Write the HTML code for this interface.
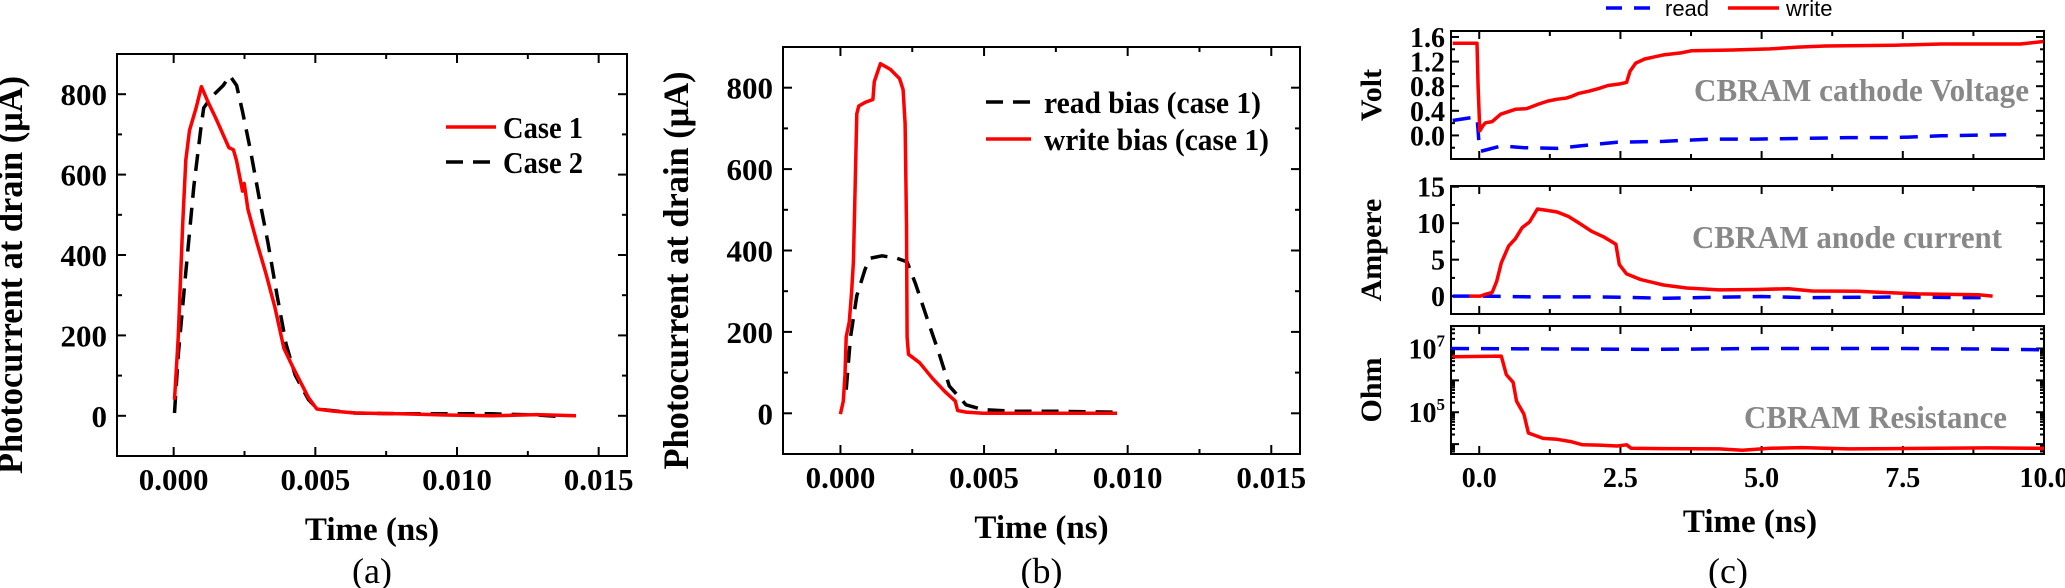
<!DOCTYPE html>
<html><head><meta charset="utf-8"><style>
html,body{margin:0;padding:0;background:#fff}
svg{display:block}
text{font-family:"Liberation Serif",serif;font-weight:bold;fill:#000}
</style></head><body>
<svg id="fig" width="2065" height="588" viewBox="0 0 2065 588" xmlns="http://www.w3.org/2000/svg"></svg>
<script>
// ---- panel (a) data ----
const aCase1X=[0.00003,0.00016,0.00032,0.00043,0.00056,0.00079,0.00098,0.00119,0.00151,0.00195,0.00211,0.00222,0.0023,0.00243,0.00249,0.00262,0.00294,0.00325,0.00357,0.00389,0.00421,0.00476,0.00505,0.0056,0.0064,0.008,0.0096,0.0112,0.0128,0.0142];
const aCase1Y=[40,194,477,636,710,766,819,784,737,667,662,634,606,559,578,514,430,355,271,168,121,45,17,12,7,5,2,0,3,0];
const aCase2X=[0.00003,0.00016,0.0004,0.00071,0.00095,0.00106,0.00135,0.00175,0.00198,0.00222,0.00243,0.0027,0.00302,0.00333,0.00365,0.00397,0.00429,0.00476,0.00508,0.0064,0.008,0.0096,0.0112,0.0128,0.0137];
const aCase2Y=[7,150,336,570,710,766,794,822,846,822,757,664,542,430,299,178,101,40,17,7,5,5,5,2,-2];
// ---- panel (b) data ----
const bWriteX=[0,0.0001,0.00016,0.0002,0.00031,0.00039,0.00045,0.00051,0.00057,0.00064,0.00086,0.00113,0.00118,0.00139,0.00174,0.00206,0.00218,0.00225,0.0023,0.00232,0.00237,0.00276,0.0032,0.00364,0.004,0.00408,0.00437,0.00496,0.00613,0.00963];
const bWriteY=[-2,30,95,188,225,298,372,552,736,755,764,771,815,859,845,822,795,712,463,187,145,124,86,53,30,7,3,0,0,0];
const bReadX=[0.0002,0.00035,0.00057,0.00086,0.00104,0.00145,0.00196,0.00232,0.00262,0.00306,0.00342,0.00379,0.00437,0.00496,0.00613,0.00759,0.00949];
const bReadY=[58,187,289,354,381,387,381,372,317,224,150,67,21,9,5,5,3];
// ---- panel (c) data ----
const cVoltWriteX=[-0.47,-0.04,-0.02,0.01,0.07,0.11,0.23,0.38,0.64,0.84,1.05,1.21,1.38,1.54,1.62,1.75,1.95,2.12,2.28,2.48,2.61,2.67,2.77,2.93,3.26,3.59,3.75,4.49,5.15,5.64,6.13,7.36,8.18,9.58,9.99];
const cVoltWriteY=[1.497,1.497,0.8,0.073,0.164,0.206,0.224,0.345,0.424,0.436,0.509,0.558,0.588,0.606,0.63,0.679,0.721,0.764,0.812,0.836,0.861,1.042,1.176,1.242,1.309,1.345,1.376,1.388,1.406,1.436,1.454,1.467,1.485,1.485,1.527];
const cVoltReadX=[-0.47,-0.04,-0.02,0.0,0.02,0.39,0.8,1.38,1.79,2.44,3.26,4.08,4.9,5.72,6.54,7.36,8.18,9.33];
const cVoltReadY=[0.242,0.303,0.073,-0.17,-0.26,-0.17,-0.2,-0.21,-0.17,-0.11,-0.097,-0.06,-0.06,-0.048,-0.036,-0.036,-0.006,0.012];
const cAmpWriteX=[-0.18,0.02,0.11,0.23,0.31,0.39,0.52,0.64,0.76,0.89,1.03,1.17,1.38,1.58,1.79,1.99,2.2,2.42,2.48,2.61,2.85,3.26,3.67,4.25,4.9,5.48,5.89,6.71,7.12,7.77,8.18,8.84,9.09];
const cAmpWriteY=[0,0,0.25,0.51,2.03,4.57,6.86,7.87,9.4,10.16,11.94,11.79,11.53,10.92,9.91,8.89,8.13,7.11,4.32,3.05,2.29,1.52,1.12,0.86,0.91,1.02,0.71,0.66,0.51,0.3,0.25,0.2,0];
const cAmpReadX=[-0.47,0,1,2,2.5,3.3,4.2,5.0,5.8,7.0,7.6,8.5,9.0];
const cAmpReadY=[0,0,-0.1,-0.1,-0.15,-0.3,-0.15,-0.05,-0.2,-0.15,-0.1,-0.2,-0.2];
const cOhmReadX=[-0.5,2,3,5,7.5,9,10];
const cOhmReadLog=[7.0,6.98,6.97,7.0,7.0,6.98,6.96];
const cOhmWriteX=[-0.47,0.39,0.48,0.6,0.66,0.79,0.87,1.13,1.38,1.62,1.83,2.12,2.44,2.61,2.69,3.26,4.25,4.66,5.15,5.72,6.54,7.36,9.0,10.0];
const cOhmWriteLog=[6.74,6.76,6.18,5.94,5.35,4.94,4.35,4.18,4.15,4.08,3.98,3.97,3.94,3.98,3.87,3.86,3.85,3.81,3.87,3.89,3.85,3.86,3.88,3.87];
// tick labels
const abXTicks=[0,0.005,0.01,0.015];
const abXLabels=["0.000","0.005","0.010","0.015"];
const abYTicks=[0,200,400,600,800];
const cXTicks=[0,2.5,5,7.5,10];
const cXLabels=["0.0","2.5","5.0","7.5","10.0"];
const voltTicks=[0,0.4,0.8,1.2,1.6];
const voltLabels=["0.0","0.4","0.8","1.2","1.6"];
const ampTicks=[0,5,10,15];
const ohmLabelExp=[5,7];

const NS="http://www.w3.org/2000/svg";
const svg=document.getElementById('fig');
function mk(tag,attrs,parent,txt){const e=document.createElementNS(NS,tag);for(const k in attrs)e.setAttribute(k,attrs[k]);if(txt!==undefined)e.textContent=txt;(parent||svg).appendChild(e);return e;}
function lin(d0,d1,p0,p1){return v=>p0+(v-d0)*(p1-p0)/(d1-d0);}
function pathD(xs,ys,sx,sy){return xs.map((x,i)=>(i?'L':'M')+sx(x).toFixed(1)+' '+sy(ys[i]).toFixed(1)).join(' ');}
function frame(g,L,T,R,B){
  const r=mk('rect',{x:L,y:T,width:R-L,height:B-T,fill:'none',stroke:'#000','stroke-width':2},g);
  
  
}
function tick(g,x1,y1,x2,y2){mk('line',{x1,y1,x2,y2,stroke:'#000','stroke-width':2},g);}
function xTicks(g,sx,T,B,vals,len){vals.forEach(v=>{const x=sx(v);tick(g,x,B,x,B-len);tick(g,x,T,x,T+len);});}
function yTicks(g,sy,L,R,vals,len){vals.forEach(v=>{const y=sy(v);tick(g,L,y,L+len,y);tick(g,R,y,R-len,y);});}
function range(a,b,s){const o=[];for(let v=a;v<=b+1e-9;v+=s)o.push(+v.toFixed(6));return o;}

// ---------- panels a & b ----------
function photoPanel(name,L,T,R,B,series,legend,legX,legY,legTextX,legW,lab,labX){
  const g=mk('g',{});
  
  
  const sx=lin(-0.002,0.016,L,R), sy=lin(-100,900,B,T);
  frame(g,L,T,R,B);
  xTicks(g,sx,T,B,abXTicks,9);xTicks(g,sx,T,B,range(0.0025,0.0125,0.005),5);
  yTicks(g,sy,L,R,abYTicks,9);yTicks(g,sy,L,R,range(-100,900,200),5);
  const xl=mk('g',{},g);
  
  
  abXTicks.forEach((v,i)=>mk('text',{x:sx(v),y:B+34,'font-size':31,'text-anchor':'middle'},xl,abXLabels[i]));
  const yl=mk('g',{},g);
  
  
  abYTicks.forEach(v=>mk('text',{x:L-10,y:sy(v)+11,'font-size':31,'text-anchor':'end'},yl,String(v)));
  const xt=mk('text',{x:(L+R)/2,y:B+84,'font-size':33,'text-anchor':'middle'},g,'Time (ns)');
  
  
  const cy=(T+B)/2+20;
  const yt=mk('text',{x:labX,y:cy,'font-size':36,'text-anchor':'middle',transform:`rotate(-90 ${labX} ${cy})`,textLength:398,lengthAdjust:'spacingAndGlyphs'},g,'Photocurrent at drain (μA)');
  
  
  const pl=mk('text',{x:(L+R)/2,y:583,'font-size':36,'text-anchor':'middle',style:'font-weight:normal'},g,lab);
  
  
  series.forEach(s=>{
    const p=mk('path',{d:pathD(s.x,s.y,sx,sy),fill:'none',stroke:s.c,'stroke-width':3.5,'stroke-dasharray':s.dash||'none','stroke-linejoin':'round'},g);
    
    
  });
  legend.forEach((l,i)=>{
    const lg=mk('g',{},g);
    
    
    const y=legY[i];
    mk('line',{x1:legX[0],y1:y,x2:legX[1],y2:y,stroke:l.c,'stroke-width':3.5,'stroke-dasharray':l.dash||'none'},lg);
    mk('text',{x:legTextX,y:y+11,'font-size':31,textLength:legW[i],lengthAdjust:'spacingAndGlyphs'},lg,l.t);
  });
}
photoPanel('panel-a',117,54,627,456,
  [{x:aCase2X,y:aCase2Y,c:'#000',dash:'17 10',name:'case2-line'},{x:aCase1X,y:aCase1Y,c:'#f00',name:'case1-line'}],
  [{t:'Case 1',c:'#f00'},{t:'Case 2',c:'#000',dash:'17 10'}],[446,496],[127,162],503,[80,80],'(a)',22);
photoPanel('panel-b',783,47,1300,454,
  [{x:bReadX,y:bReadY,c:'#000',dash:'17 10',name:'read-bias-line'},{x:bWriteX,y:bWriteY,c:'#f00',name:'write-bias-line'}],
  [{t:'read bias (case 1)',c:'#000',dash:'17 10'},{t:'write bias (case 1)',c:'#f00'}],[986,1031],[102,139],1044,[217,225],'(b)',688);

// ---------- panel c ----------
const gc=mk('g',{});


const CL=1451,CR=2044;
const csx=lin(-0.5,10,CL,CR);
function cSub(name,T,B,sy,yMajor,yMinor,labels,title,note,noteX,noteY,noteW,series){
  const g=mk('g',{},gc);
  
  
  frame(g,CL,T,CR,B);
  xTicks(g,csx,T,B,cXTicks,8);xTicks(g,csx,T,B,range(1.25,8.75,2.5),5);
  yTicks(g,sy,CL,CR,yMajor,8);yTicks(g,sy,CL,CR,yMinor,4);
  labels.forEach(l=>{
    const t=mk('text',{x:CL-6,y:sy(l.v)+10,'font-size':28,'text-anchor':'end'},g,l.t);
    if(l.sup){mk('tspan',{dy:-12,'font-size':17},t,l.sup);}
  });
  const cy=(T+B)/2;
  const yt=mk('text',{x:1381,y:cy,'font-size':30,'text-anchor':'middle',transform:`rotate(-90 1381 ${cy})`},g,title);
  
  
  const an=mk('text',{x:noteX,y:noteY,'font-size':32,style:'fill:#888',textLength:noteW,lengthAdjust:'spacingAndGlyphs'},g,note);
  
  
  series.forEach(s=>{
    const p=mk('path',{d:pathD(s.x,s.y,csx,sy),fill:'none',stroke:s.c,'stroke-width':3.5,'stroke-dasharray':s.dash||'none','stroke-linejoin':'round'},g);
    
    
  });
}
const vsy=lin(-0.383,1.697,159,31);
cSub('voltage-subplot',31,159,vsy,voltTicks,range(-0.2,1.4,0.4),voltTicks.map((v,i)=>({v,t:voltLabels[i]})),'Volt','CBRAM cathode Voltage',1694,101,335,
  [{x:cVoltReadX,y:cVoltReadY,c:'#00f',dash:'18 12',name:'read-voltage-line'},{x:cVoltWriteX,y:cVoltWriteY,c:'#f00',name:'write-voltage-line'}]);
const asy=lin(-2.45,15.1,314,186);
cSub('current-subplot',186,314,asy,ampTicks,range(2.5,12.5,5),ampTicks.map(v=>({v,t:String(v)})),'Ampere','CBRAM anode current',1692,248,310,
  [{x:cAmpReadX,y:cAmpReadY,c:'#00f',dash:'18 12',name:'read-current-line'},{x:cAmpWriteX,y:cAmpWriteY,c:'#f00',name:'write-current-line'}]);
const osy=lin(3.69,7.705,454,326);
const ohmMinor=[];for(let e=3;e<=7;e++)for(let m=2;m<=9;m++){const l=e+Math.log10(m);if(l>3.69&&l<7.705)ohmMinor.push(l);}
cSub('resistance-subplot',326,454,osy,[4,5,6,7],ohmMinor,ohmLabelExp.map(e=>({v:e,t:'10',sup:String(e)})),'Ohm','CBRAM Resistance',1744,428,263,
  [{x:cOhmReadX,y:cOhmReadLog,c:'#00f',dash:'18 12',name:'read-resistance-line'},{x:cOhmWriteX,y:cOhmWriteLog,c:'#f00',name:'write-resistance-line'}]);
const cxl=mk('g',{},gc);


cXTicks.forEach((v,i)=>mk('text',{x:csx(v),y:487,'font-size':28,'text-anchor':'middle'},cxl,cXLabels[i]));
const cxt=mk('text',{x:1750,y:532,'font-size':33,'text-anchor':'middle'},gc,'Time (ns)');


const cpl=mk('text',{x:1728,y:583,'font-size':36,'text-anchor':'middle',style:'font-weight:normal'},gc,'(c)');


// top legend
const lr=mk('g',{},gc);


mk('line',{x1:1606,y1:8,x2:1652,y2:8,stroke:'#00f','stroke-width':3.5,'stroke-dasharray':'16 12'},lr);
mk('text',{x:1665,y:16,'font-size':22,style:'font-family:Liberation Sans,sans-serif;font-weight:normal'},lr,'read');
const lw=mk('g',{},gc);


mk('line',{x1:1728,y1:8,x2:1779,y2:8,stroke:'#f00','stroke-width':3.5},lw);
mk('text',{x:1786,y:16,'font-size':22,style:'font-family:Liberation Sans,sans-serif;font-weight:normal'},lw,'write');
</script>
</body></html>
